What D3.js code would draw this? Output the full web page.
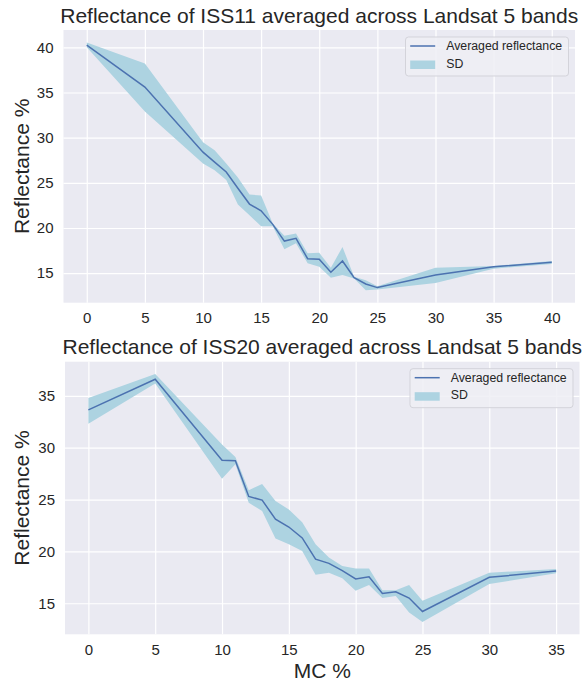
<!DOCTYPE html>
<html>
<head>
<meta charset="utf-8">
<script src="https://cdn.jsdelivr.net/npm/d3@7"></script>
<style>
  body { margin: 0; background: #ffffff; }
  svg { display: block; font-family: "Liberation Sans", Arial, sans-serif; }
</style>
</head>
<body>
<div class="chart"></div>
<script>
// ISS11 - mean reflectance and SD band edges
var mc11 = [0, 5, 10, 11, 12, 13, 14, 15, 16, 17, 18, 19, 20, 21, 22, 23, 24, 25, 30, 35, 40];
var mean11 = [40.25, 35.6, 28.4, 27.3, 26.2, 24.4, 22.65, 21.9, 20.4, 18.55, 18.85, 16.6, 16.55, 15.1, 16.35, 14.5, 13.8, 13.4, 14.8, 15.7, 16.2];
var upper11 = [40.55, 38.2, 29.5, 28.6, 27.15, 25.6, 23.7, 23.6, 20.5, 19.15, 19.4, 17.2, 17.25, 15.6, 17.9, 14.6, 14.2, 13.55, 15.6, 15.8, 16.35];
var lower11 = [40.0, 32.9, 27.15, 26.4, 25.3, 22.6, 21.4, 20.2, 20.2, 17.65, 18.3, 16.1, 15.7, 14.5, 14.8, 14.4, 13.1, 13.2, 13.9, 15.5, 16.0];

// ISS20
var mc20 = [0, 5, 10, 11, 12, 13, 14, 15, 16, 17, 18, 19, 20, 21, 22, 23, 24, 25, 30, 35];
var mean20 = [33.65, 36.6, 28.8, 28.75, 25.3, 24.95, 23.1, 22.35, 21.3, 19.25, 18.85, 18.15, 17.35, 17.55, 15.95, 16.1, 15.5, 14.2, 17.5, 18.1];
var upper20 = [34.8, 37.1, 30.3, 29.1, 25.9, 26.5, 24.85, 24.05, 22.8, 20.7, 19.4, 18.6, 18.35, 18.35, 16.25, 16.25, 16.75, 15.25, 17.95, 18.3];
var lower20 = [32.3, 36.2, 27.0, 28.4, 24.7, 23.9, 21.25, 20.7, 20.05, 17.75, 17.95, 17.4, 16.2, 16.75, 15.5, 15.7, 14.1, 13.2, 16.85, 17.9];

var xTicks11 = [0, 5, 10, 15, 20, 25, 30, 35, 40];
var yTicks11 = [15, 20, 25, 30, 35, 40];
var xTicks20 = [0, 5, 10, 15, 20, 25, 30, 35];
var yTicks20 = [15, 20, 25, 30, 35];

var titles = ["Reflectance of ISS11 averaged across Landsat 5 bands",
              "Reflectance of ISS20 averaged across Landsat 5 bands"];
var legendLabels = ["Averaged reflectance", "SD"];

var view = {
    width: 584,
    height: 680,
    textColor: "#262626",
    init() {
        this.svg = d3.select(".chart")
            .append("svg")
            .attr("width", this.width)
            .attr("height", this.height);
    },
    // pad a data extent by 5% like matplotlib does
    padded(values) {
        const ext = d3.extent(values);
        const m = (ext[1] - ext[0]) * 0.05;
        return [ext[0] - m, ext[1] + m];
    },
    drawPanel(p) {
        const svg = this.svg;
        const x = d3.scaleLinear().domain(this.padded(p.mc)).range([p.left, p.right]);
        const y = d3.scaleLinear().domain(this.padded(p.upper.concat(p.lower))).range([p.bottom, p.top]);
        const w = p.right - p.left, h = p.bottom - p.top;

        //Background
        svg.append("rect")
            .attr("x", p.left).attr("y", p.top)
            .attr("width", w).attr("height", h)
            .attr("fill", "#eaeaf2");

        //Grid + tick labels
        const gx = svg.append("g")
            .attr("transform", "translate(0," + p.bottom + ")")
            .call(d3.axisBottom(x).tickValues(p.xTicks).tickSizeInner(-h).tickSizeOuter(0).tickPadding(10));
        const gy = svg.append("g")
            .attr("transform", "translate(" + p.left + ",0)")
            .call(d3.axisLeft(y).tickValues(p.yTicks).tickSizeInner(-w).tickSizeOuter(0).tickPadding(10));
        [gx, gy].forEach(g => {
            g.select(".domain").remove();
            g.selectAll(".tick line").attr("stroke", "#ffffff").attr("stroke-width", 1.2);
            g.selectAll(".tick text")
                .attr("fill", this.textColor)
                .style("font-size", "15px")
                .style("font-family", "Liberation Sans, Arial, sans-serif");
        });

        //SD band
        const idx = d3.range(p.mc.length);
        svg.append("path")
            .datum(idx)
            .attr("fill", "#add3e1")
            .attr("d", d3.area()
                .x(i => x(p.mc[i]))
                .y0(i => y(p.lower[i]))
                .y1(i => y(p.upper[i])));

        //Mean line
        svg.append("path")
            .datum(idx)
            .attr("fill", "none")
            .attr("stroke", "#4c72b0")
            .attr("stroke-width", 1.5)
            .attr("d", d3.line()
                .x(i => x(p.mc[i]))
                .y(i => y(p.mean[i])));

        //Title
        svg.append("text")
            .attr("x", (p.left + p.right) / 2)
            .attr("y", p.top - 7.5)
            .attr("text-anchor", "middle")
            .attr("fill", this.textColor)
            .style("font-size", "21px")
            .text(p.title);

        //Y label
        svg.append("text")
            .attr("transform", "translate(29," + (p.top + p.bottom) / 2 + ") rotate(-90)")
            .attr("text-anchor", "middle")
            .attr("fill", this.textColor)
            .style("font-size", "21px")
            .text("Reflectance %");

        //Legend
        const lx = p.right - 6.5 - 163, ly = p.top + 7;
        const lg = svg.append("g").attr("transform", "translate(" + lx + "," + ly + ")");
        lg.append("rect")
            .attr("width", 163).attr("height", 39).attr("rx", 3)
            .attr("fill", "#eeeef5").attr("fill-opacity", 0.85)
            .attr("stroke", "#d3d3da").attr("stroke-width", 1);
        lg.append("line")
            .attr("x1", 4.7).attr("x2", 29.7).attr("y1", 9).attr("y2", 9)
            .attr("stroke", "#4c72b0").attr("stroke-width", 1.5);
        lg.append("rect")
            .attr("x", 4.7).attr("y", 23.5).attr("width", 25).attr("height", 8.5)
            .attr("fill", "#add3e1");
        lg.selectAll("text.lab")
            .data(legendLabels)
            .enter().append("text")
            .attr("class", "lab")
            .attr("x", 40.7)
            .attr("y", (d, i) => 9 + i * 17.3)
            .attr("dy", "0.35em")
            .attr("fill", this.textColor)
            .style("font-size", "12.3px")
            .text(d => d);
    },
    drawXLabel(cx) {
        this.svg.append("text")
            .attr("x", cx)
            .attr("y", 677.5)
            .attr("text-anchor", "middle")
            .attr("fill", this.textColor)
            .style("font-size", "21px")
            .text("MC %");
    }
};

var controller = {
    init() {
        view.init();
        view.drawPanel({
            mc: mc11, mean: mean11, upper: upper11, lower: lower11,
            xTicks: xTicks11, yTicks: yTicks11, title: titles[0],
            left: 63.5, right: 575, top: 30, bottom: 302.7
        });
        view.drawPanel({
            mc: mc20, mean: mean20, upper: upper20, lower: lower20,
            xTicks: xTicks20, yTicks: yTicks20, title: titles[1],
            left: 65, right: 579.5, top: 361.7, bottom: 634.3
        });
        view.drawXLabel((65 + 579.5) / 2);
    }
};

//Run
controller.init();
</script>
</body>
</html>
